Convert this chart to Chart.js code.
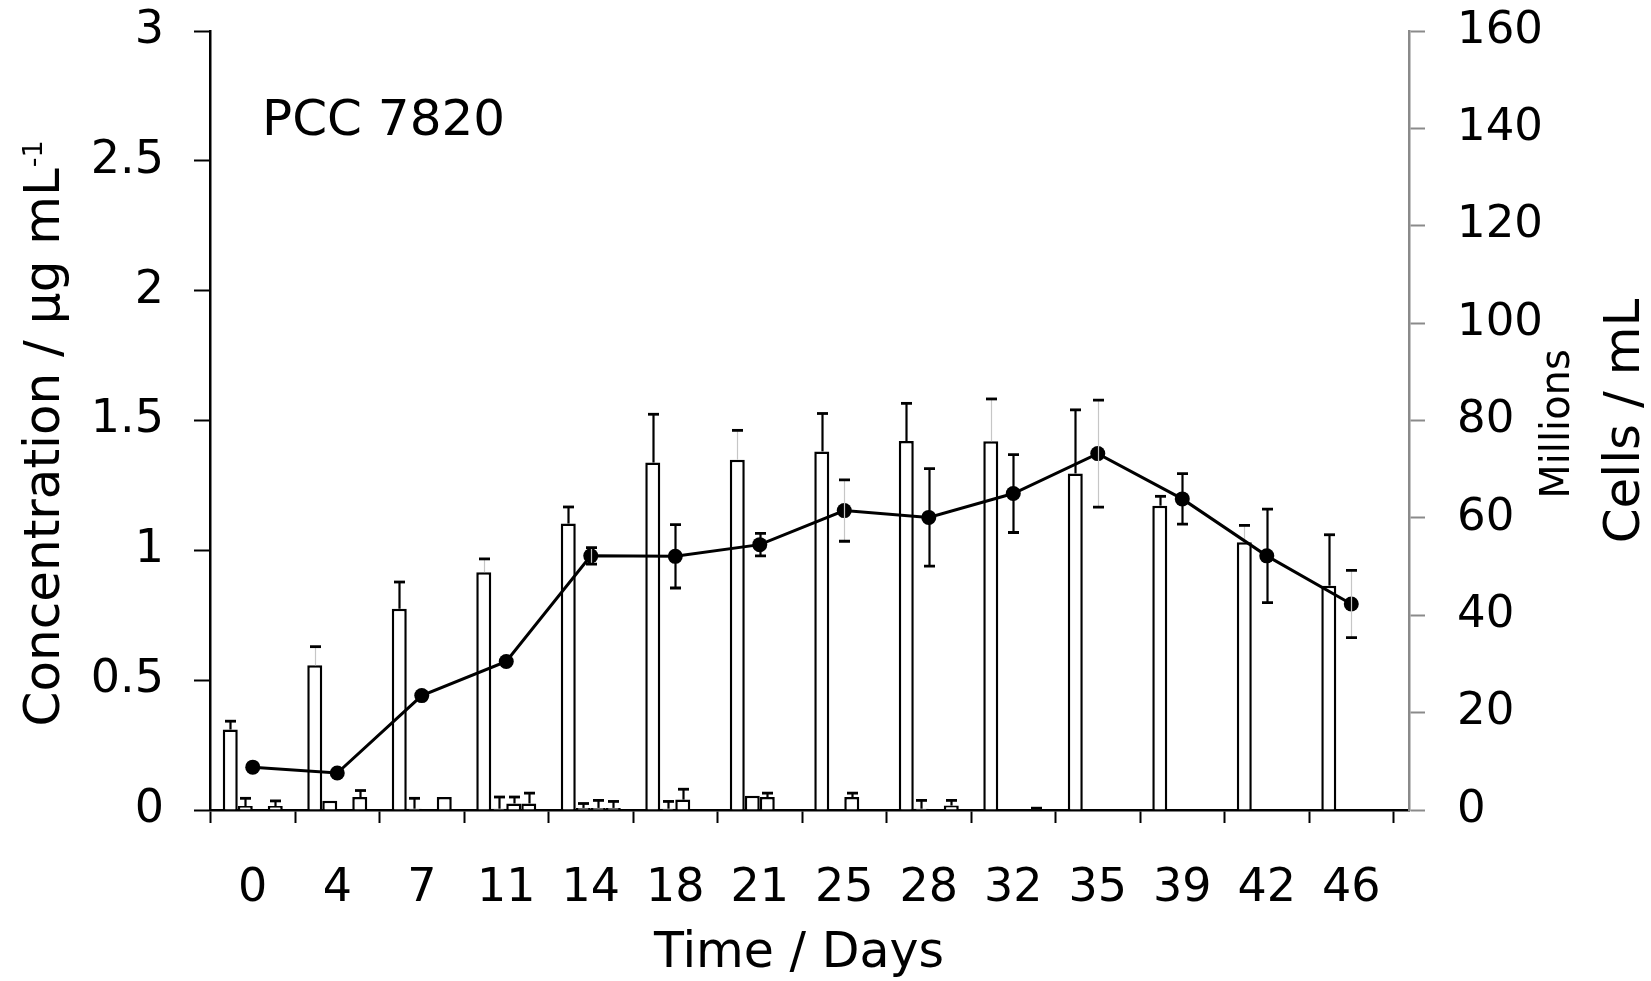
<!DOCTYPE html>
<html>
<head>
<meta charset="utf-8">
<script src="https://cdn.jsdelivr.net/npm/chart.js@4.4.1/dist/chart.umd.min.js"></script>
<style>
  html, body { margin: 0; padding: 0; background: #fff; }
  #wrap { width: 1651px; height: 981px; }
</style>
</head>
<body>
<div id="wrap"><canvas id="chart" width="1651" height="981"></canvas></div>
<script>
// Sampling days
const days = ['0', '4', '7', '11', '14', '18', '21', '25', '28', '32', '35', '39', '42', '46'];

// Concentration series (µg/mL), left axis
const totalConc    = [0.310, 0.557, 0.775, 0.916, 1.103, 1.338, 1.349, 1.381, 1.421, 1.420, 1.296, 1.172, 1.031, 0.864];
const totalConcErr = [0.032, 0.072, 0.103, 0.051, 0.064, 0.186, 0.113, 0.146, 0.145, 0.163, 0.245, 0.036, 0.065, 0.196];
const seriesB      = [0.015, 0.036, 0.005, 0.005, 0.008, 0.005, 0.055, 0, 0.005, 0, 0, 0, 0, 0];
const seriesBErr   = [0.030, 0, 0.040, 0.045, 0.017, 0.028, 0, 0, 0.032, 0, 0, 0, 0, 0];
const seriesC      = [0, 0, 0, 0.025, 0.008, 0.040, 0.050, 0.050, 0, 0, 0, 0, 0, 0];
const seriesCErr   = [0, 0, 0, 0.025, 0.029, 0.040, 0.015, 0.015, 0, 0, 0, 0, 0, 0];
const seriesD      = [0.015, 0.050, 0.050, 0.025, 0.008, 0, 0, 0, 0.017, 0.003, 0, 0, 0, 0];
const seriesDErr   = [0.020, 0.025, 0, 0.040, 0.025, 0, 0, 0, 0.020, 0.004, 0, 0, 0, 0];

// Cell density (millions of cells/mL), right axis
const cells    = [8.8, 7.6, 23.5, 30.5, 52.2, 52.1, 54.5, 61.5, 60.1, 65.0, 73.2, 63.9, 52.2, 42.3];
const cellsErr = [0.5, 0.5, 0.5, 0.5, 1.7, 6.5, 2.3, 6.3, 10.0, 8.0, 11.0, 5.2, 9.6, 6.9];

// Axis tick labels
const leftTicks  = ['0', '0.5', '1', '1.5', '2', '2.5', '3'];
const rightTicks = ['0', '20', '40', '60', '80', '100', '120', '140', '160'];

// Text
const panelLabel = 'PCC 7820';
const xTitle = 'Time / Days';
const leftTitle = 'Concentration / μg mL';
const leftTitleSup = '-1';
const rightTitle = 'Cells / mL';
const rightUnit = 'Millions';

// Error-bar stem shading (k = dark, g = light)
const totalStemTone = ['k', 'g', 'k', 'g', 'k', 'k', 'g', 'k', 'k', 'g', 'k', 'k', 'g', 'k'];
const cellsStemTone = ['k', 'k', 'k', 'k', 'g', 'k', 'k', 'g', 'k', 'k', 'g', 'k', 'k', 'g'];

const FONT = "'DejaVu Sans', Verdana, sans-serif";
const xy = arr => arr.map((v, i) => ({ x: i, y: v }));

const barStyle = {
  backgroundColor: '#ffffff',
  borderColor: '#000000',
  borderWidth: 2.5,
  yAxisID: 'y',
  order: 1
};

// Vertical axes: fixed width, and no extra room reserved above/below for the end labels
const fixWidth = w => s => { s.width = w; s.paddingTop = 0; s.paddingBottom = 0; };

// Draws error bars right after each dataset that carries them
const errorBars = {
  id: 'errorBars',
  afterDatasetDraw(chart, args) {
    const ds = chart.data.datasets[args.index];
    if (!ds.errors) return;
    const meta = args.meta;
    const yScale = chart.scales[meta.yAxisID];
    const ctx = chart.ctx;
    ctx.save();
    meta.data.forEach((el, i) => {
      const e = ds.errors[i];
      if (!e) return;
      const v = ds.data[i].y;
      const x = Math.round(el.x) + 0.5;
      const top = yScale.getPixelForValue(v + e);
      const bot = yScale.getPixelForValue(ds.twoSided ? v - e : v);
      const tone = ds.stemTone ? ds.stemTone[i] : 'k';
      ctx.strokeStyle = tone === 'g' ? '#c6c6c6' : '#000';
      ctx.lineWidth = tone === 'g' ? 1.2 : 2.2;
      ctx.beginPath();
      ctx.moveTo(x, top);
      ctx.lineTo(x, bot);
      ctx.stroke();
      ctx.strokeStyle = '#000';
      ctx.lineWidth = 2.8;
      ctx.beginPath();
      ctx.moveTo(x - 5.5, top);
      ctx.lineTo(x + 5.5, top);
      if (ds.twoSided) {
        ctx.moveTo(x - 5.5, bot);
        ctx.lineTo(x + 5.5, bot);
      }
      ctx.stroke();
    });
    ctx.restore();
  }
};

// Axis titles, panel label; vertical titles read bottom to top
const annotations = {
  id: 'annotations',
  afterDraw(chart) {
    const ctx = chart.ctx;
    ctx.save();
    ctx.fillStyle = '#000';
    ctx.textBaseline = 'alphabetic';

    ctx.textAlign = 'left';
    ctx.font = `50px ${FONT}`;
    ctx.fillText(panelLabel, 262, 135);

    ctx.textAlign = 'center';
    ctx.font = `49px ${FONT}`;
    ctx.fillText(xTitle, 799, 967);

    // left title with superscript exponent
    ctx.save();
    ctx.translate(58.5, 726.5);
    ctx.rotate(-Math.PI / 2);
    ctx.textAlign = 'left';
    ctx.font = `50px ${FONT}`;
    ctx.fillText(leftTitle, 0, 0);
    const w = ctx.measureText(leftTitle).width;
    ctx.font = `27px ${FONT}`;
    ctx.fillText(leftTitleSup, w + 1, -17);
    ctx.restore();

    ctx.save();
    ctx.translate(1569, 424);
    ctx.rotate(-Math.PI / 2);
    ctx.textAlign = 'center';
    ctx.font = `40px ${FONT}`;
    ctx.fillText(rightUnit, 0, 0);
    ctx.restore();

    ctx.save();
    ctx.translate(1639, 421);
    ctx.rotate(-Math.PI / 2);
    ctx.textAlign = 'center';
    ctx.font = `50px ${FONT}`;
    ctx.fillText(rightTitle, 0, 0);
    ctx.restore();

    ctx.restore();
  }
};

new Chart(document.getElementById('chart'), {
  type: 'bar',
  data: {
    datasets: [
      { label: 'Total', data: xy(totalConc), errors: totalConcErr, stemTone: totalStemTone, ...barStyle },
      { label: 'B', data: xy(seriesB), errors: seriesBErr, ...barStyle },
      { label: 'C', data: xy(seriesC), errors: seriesCErr, ...barStyle },
      { label: 'D', data: xy(seriesD), errors: seriesDErr, ...barStyle },
      {
        type: 'line',
        label: 'Cells',
        data: xy(cells),
        errors: cellsErr,
        stemTone: cellsStemTone,
        twoSided: true,
        yAxisID: 'y2',
        order: 0,
        borderColor: '#000',
        borderWidth: 3,
        pointRadius: 7.5,
        pointBackgroundColor: '#000',
        pointBorderColor: '#000',
        pointBorderWidth: 0,
        tension: 0,
        fill: false
      }
    ]
  },
  options: {
    responsive: false,
    animation: false,
    devicePixelRatio: 1,
    layout: { padding: { top: 31, left: 0, right: 0, bottom: 0 } },
    plugins: { legend: { display: false }, tooltip: { enabled: false } },
    datasets: { bar: { categoryPercentage: 0.71, barPercentage: 1.0 } },
    scales: {
      x: {
        type: 'linear',
        min: -0.506,
        max: 13.683,
        offset: false,
        afterBuildTicks: s => { s.ticks = days.map((d, i) => ({ value: i })); },
        afterFit: s => { s.height = 171; },
        grid: { offset: true, drawOnChartArea: false, drawTicks: true, tickLength: 13, tickWidth: 2, tickColor: '#000' },
        border: { display: true, color: '#000', width: 2.5 },
        ticks: {
          callback: v => days[v],
          autoSkip: false, maxRotation: 0, minRotation: 0,
          padding: 38,
          color: '#000',
          font: { family: FONT, size: 46 }
        }
      },
      y: {
        position: 'left',
        min: 0, max: 3,
        afterBuildTicks: s => { s.ticks = leftTicks.map(t => ({ value: parseFloat(t) })); },
        afterFit: fixWidth(210),
        grid: { drawOnChartArea: false, drawTicks: true, tickLength: 16, tickWidth: 2, tickColor: '#000' },
        border: { display: true, color: '#000', width: 2.5 },
        ticks: {
          callback: (v, i) => leftTicks[i],
          padding: 30,
          color: '#000',
          font: { family: FONT, size: 46 }
        }
      },
      y2: {
        position: 'right',
        min: 0, max: 160,
        afterBuildTicks: s => { s.ticks = rightTicks.map(t => ({ value: parseFloat(t) })); },
        afterFit: fixWidth(242),
        grid: { drawOnChartArea: false, drawTicks: true, tickLength: 16, tickWidth: 2, tickColor: '#8a8a8a' },
        border: { display: true, color: '#8a8a8a', width: 2.5 },
        ticks: {
          callback: (v, i) => rightTicks[i],
          padding: 32,
          color: '#000',
          font: { family: FONT, size: 45 }
        }
      }
    }
  },
  plugins: [errorBars, annotations]
});
</script>
</body>
</html>
